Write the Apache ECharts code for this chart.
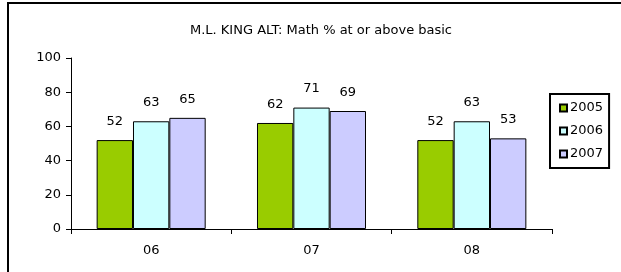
<!DOCTYPE html>
<html>
<head>
<meta charset="utf-8">
<script src="https://cdn.jsdelivr.net/npm/echarts@6/dist/echarts.min.js"></script>
<style>
  html, body { margin: 0; padding: 0; background: #fff; }
  #container { width: 621px; height: 272px; }
</style>
</head>
<body>
<div id="container"></div>
<script>
var dom = document.getElementById('container');
var myChart = echarts.init(dom, null, { renderer: 'canvas' });

// data
var categories = ['06', '07', '08'];
var years = ['2005', '2006', '2007'];
var values2005 = [52, 62, 52];
var values2006 = [63, 71, 63];
var values2007 = [65, 69, 53];
var yTicks = [0, 20, 40, 60, 80, 100];

var colors = ['#99cc00', '#ccffff', '#ccccff'];
var font = 'DejaVu Sans';

function makeSeries(name, vals, color) {
  return {
    name: name,
    type: 'bar',
    data: vals,
    barGap: '0%',
    barCategoryGap: '32%',
    itemStyle: { color: color, borderColor: '#000', borderWidth: 1 },
    label: {
      show: true,
      position: 'top',
      distance: 12,
      color: '#000',
      fontFamily: font,
      fontSize: 13
    }
  };
}

var option = {
  animation: false,
  title: {
    text: 'M.L. KING ALT: Math % at or above basic',
    left: 316,
    textAlign: 'center',
    top: 19,
    textStyle: { fontFamily: font, fontSize: 13, fontWeight: 'normal', color: '#000' }
  },
  legend: {
    orient: 'vertical',
    left: 550,
    top: 94,
    data: years,
    icon: 'rect',
    itemWidth: 7,
    itemHeight: 7,
    itemGap: 9,
    borderColor: '#000',
    borderWidth: 2,
    padding: [7, 6, 7, 9],
    textStyle: { fontFamily: font, fontSize: 13, color: '#000', lineHeight: 14, padding: [0, 0, 0, -2] }
  },
  grid: { left: 71, right: 69, top: 58, bottom: 43 },
  xAxis: {
    type: 'category',
    data: categories,
    axisLine: { lineStyle: { color: '#000', width: 1 } },
    axisTick: { show: true, length: 5, lineStyle: { color: '#000' } },
    axisLabel: { color: '#000', fontFamily: font, fontSize: 13, margin: 15 },
    splitLine: { show: false }
  },
  yAxis: {
    type: 'value',
    min: yTicks[0],
    max: yTicks[yTicks.length - 1],
    interval: yTicks[1] - yTicks[0],
    axisLine: { show: true, lineStyle: { color: '#000', width: 1 } },
    axisTick: { show: true, length: 5, lineStyle: { color: '#000' } },
    axisLabel: { color: '#000', fontFamily: font, fontSize: 13, margin: 10 },
    splitLine: { show: false }
  },
  series: [
    makeSeries(years[0], values2005, colors[0]),
    makeSeries(years[1], values2006, colors[1]),
    makeSeries(years[2], values2007, colors[2])
  ],
  // outer frame: only top and left edges are visible in the picture
  graphic: [{
    type: 'polyline',
    shape: { points: [[8, 272], [8, 3], [621, 3]] },
    style: { fill: null, stroke: '#000', lineWidth: 2 },
    silent: true
  }]
};

myChart.setOption(option);
window.addEventListener('resize', myChart.resize);
</script>
</body>
</html>
